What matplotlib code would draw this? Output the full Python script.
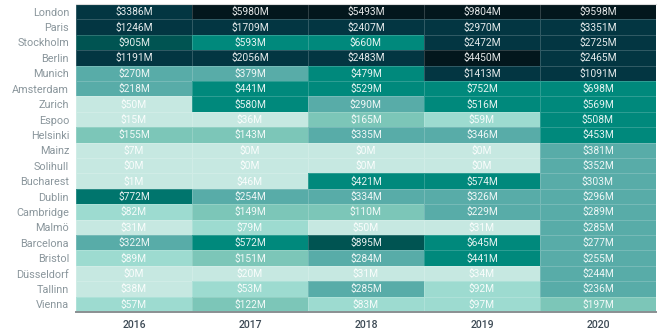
import numpy as np
import matplotlib
matplotlib.use("Agg")
import matplotlib.pyplot as plt
from matplotlib.colors import ListedColormap, BoundaryNorm

cities = ["London", "Paris", "Stockholm", "Berlin", "Munich", "Amsterdam", "Zurich",
          "Espoo", "Helsinki", "Mainz", "Solihull", "Bucharest", "Dublin", "Cambridge",
          "Malmö", "Barcelona", "Bristol", "Düsseldorf", "Tallinn", "Vienna"]
years = ["2016", "2017", "2018", "2019", "2020"]

# investment in $M per city and year
v2016 = [3386, 1246, 905, 1191, 270, 218, 50, 15, 155, 7, 0, 1, 772, 82, 31, 322, 89, 0, 38, 57]
v2017 = [5980, 1709, 593, 2056, 379, 441, 580, 36, 143, 0, 0, 46, 254, 149, 79, 572, 151, 20, 53, 122]
v2018 = [5493, 2407, 660, 2483, 479, 529, 290, 165, 335, 0, 0, 421, 334, 110, 50, 895, 284, 31, 285, 83]
v2019 = [9804, 2970, 2472, 4450, 1413, 752, 516, 59, 346, 0, 0, 574, 326, 229, 31, 645, 441, 34, 92, 97]
v2020 = [9598, 3351, 2725, 2465, 1091, 698, 569, 508, 453, 381, 352, 303, 296, 289, 285,
         277, 255, 244, 236, 197]

values = np.array([v2016, v2017, v2018, v2019, v2020]).T

# stepped colour scale
bounds = [-1, 50.5, 100, 200, 400, 760, 850, 1000, 4000, 10000]
colors = ["#c6e8e1", "#9ddbd0", "#7cc6b8", "#58aca8", "#00897c",
          "#00756d", "#005452", "#033642", "#03171d"]
cmap = ListedColormap(colors)
norm = BoundaryNorm(bounds, cmap.N)

plt.rcParams["font.family"] = ["Roboto", "DejaVu Sans"]

fig = plt.figure(figsize=(6.68, 3.33), dpi=100)
ax = fig.add_axes([0.1138, 0.063, 0.8682, 0.925])

ax.pcolormesh(values, cmap=cmap, norm=norm,
              edgecolor=(1, 1, 1, 0.18), linewidth=0.6)
ax.set_xlim(0, len(years))
ax.set_ylim(len(cities), 0)

for i in range(len(cities)):
    for j in range(len(years)):
        ax.text(j + 0.5, i + 0.52, f"${values[i, j]}M", ha="center", va="center",
                fontsize=7.4, color="white", alpha=0.9)

ax.set_yticks(np.arange(len(cities)) + 0.5)
ax.set_yticklabels(cities, fontsize=7.8, color="#8a969c")
ax.set_xticks(np.arange(len(years)) + 0.5)
ax.set_xticklabels(years, fontsize=7.6, color="#3d4a55", fontweight="medium")
ax.tick_params(length=0, pad=5)
ax.tick_params(axis="x", pad=6)

for side in ["left", "right"]:
    ax.spines[side].set_visible(False)
ax.spines["top"].set_color("#dddddd")
ax.spines["top"].set_linewidth(0.8)
ax.spines["bottom"].set_color("#8a8f92")
ax.spines["bottom"].set_linewidth(1.4)

fig.savefig("out.png", dpi=100)
